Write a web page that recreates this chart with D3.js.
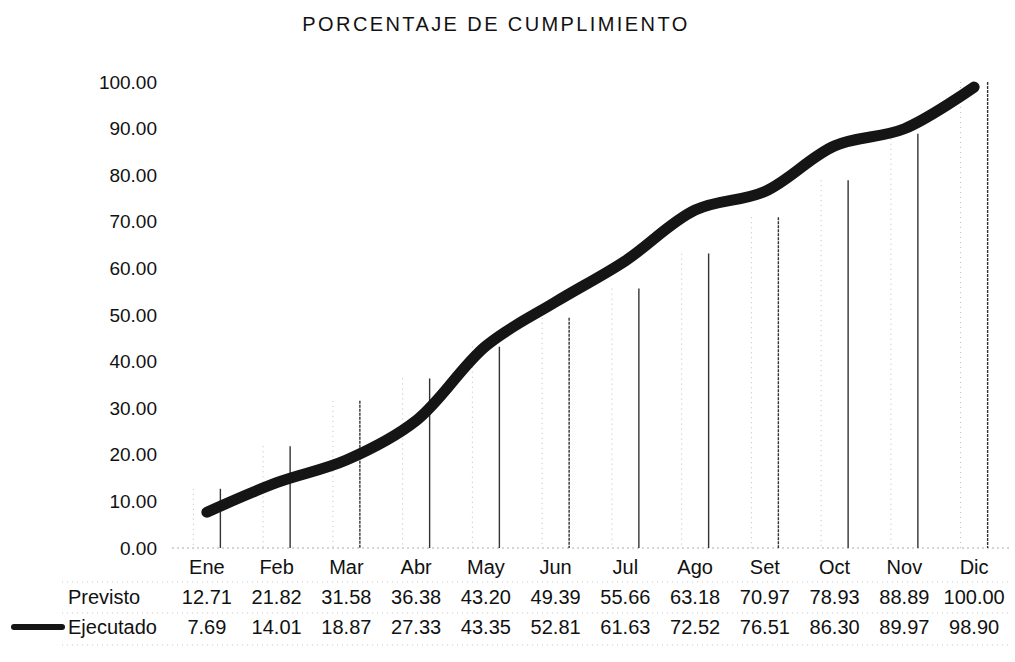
<!DOCTYPE html>
<html>
<head>
<meta charset="utf-8">
<script src="https://cdn.jsdelivr.net/npm/d3@7"></script>
<style>
    body { margin: 0; background: #fff; }
    text { font-family: "Liberation Sans", Arial, sans-serif; fill: #111; }
</style>
</head>
<body>
<div id="chart"></div>
<script>
// Data
const months = ['Ene', 'Feb', 'Mar', 'Abr', 'May', 'Jun', 'Jul', 'Ago', 'Set', 'Oct', 'Nov', 'Dic'];
const previsto = [12.71, 21.82, 31.58, 36.38, 43.20, 49.39, 55.66, 63.18, 70.97, 78.93, 88.89, 100.00];
const ejecutado = [7.69, 14.01, 18.87, 27.33, 43.35, 52.81, 61.63, 72.52, 76.51, 86.30, 89.97, 98.90];
const yTicks = [0, 10, 20, 30, 40, 50, 60, 70, 80, 90, 100];
const rowNames = ['Previsto', 'Ejecutado'];

let width = 1015,
    height = 662;

let svg = d3.select('#chart')
    .append('svg')
    .attr('width', width)
    .attr('height', height);

// Title
svg.append('text')
    .attr('x', 496)
    .attr('y', 31)
    .attr('text-anchor', 'middle')
    .style('font-size', '20px')
    .style('letter-spacing', '2.4px')
    .text('PORCENTAJE DE CUMPLIMIENTO');

let xScale = d3.scaleBand()
    .domain(months)
    .range([172, 1009]);

let yScale = d3.scaleLinear()
    .domain([0, 100])
    .range([548, 82]);

// Y axis: labels only, no line
let yAxis = svg.append('g')
    .attr('transform', 'translate(157,0)')
    .call(d3.axisLeft(yScale).tickValues(yTicks).tickFormat(d3.format('.2f')).tickSize(0).tickPadding(0));
yAxis.select('.domain').remove();
yAxis.selectAll('text')
    .style('font-size', '19px')
    .style('font-family', '"Liberation Sans", Arial, sans-serif')
    .attr('fill', '#111');

// faint dotted baseline
svg.append('line')
    .attr('x1', xScale.range()[0]).attr('x2', xScale.range()[1])
    .attr('y1', yScale(0)).attr('y2', yScale(0))
    .attr('stroke', '#aaa')
    .attr('stroke-dasharray', '2,3');

// Previsto bars (white bars, scan keeps mostly the right edges)
let barW = 27;
let bars = svg.append('g')
    .selectAll('g')
    .data(previsto)
    .enter().append('g')
    .attr('transform', (d, i) => 'translate(' + (xScale(months[i]) + xScale.bandwidth() / 2) + ',0)');

bars.append('line')
    .attr('x1', -barW / 2).attr('x2', -barW / 2)
    .attr('y1', d => yScale(d)).attr('y2', yScale(0))
    .attr('stroke', '#bbb')
    .attr('stroke-dasharray', '1,4');

bars.append('line')
    .attr('x1', barW / 2).attr('x2', barW / 2)
    .attr('y1', d => yScale(d)).attr('y2', yScale(0))
    .attr('stroke', '#333')
    .attr('stroke-width', 1.4)
    .attr('stroke-dasharray', (d, i) => (i % 3 === 2) ? '3,1' : null);

// Ejecutado thick smoothed line
let line = d3.line()
    .x((d, i) => xScale(months[i]) + xScale.bandwidth() / 2)
    .y(d => yScale(d))
    .curve(d3.curveCatmullRom.alpha(0.5));

svg.append('path')
    .datum(ejecutado)
    .attr('d', line)
    .attr('fill', 'none')
    .attr('stroke', '#151515')
    .attr('stroke-width', 11)
    .attr('stroke-linecap', 'round')
    .attr('stroke-linejoin', 'round');

// Month labels
svg.append('g')
    .selectAll('text')
    .data(months)
    .enter().append('text')
    .attr('x', d => xScale(d) + xScale.bandwidth() / 2)
    .attr('y', 574)
    .attr('text-anchor', 'middle')
    .style('font-size', '20px')
    .text(d => d);

// Data table
let rowY = [604, 634];
let tableRows = [previsto, ejecutado];

// faint dotted table rules
[582, 613, 645].forEach(y => {
    svg.append('line')
        .attr('x1', 62).attr('x2', 1010)
        .attr('y1', y).attr('y2', y)
        .attr('stroke', '#c8c8c8')
        .attr('stroke-dasharray', '1,4');
});

tableRows.forEach((row, r) => {
    svg.append('text')
        .attr('x', 68)
        .attr('y', rowY[r])
        .style('font-size', '20px')
        .text(rowNames[r]);

    svg.append('g')
        .selectAll('text')
        .data(row)
        .enter().append('text')
        .attr('x', (d, i) => xScale(months[i]) + xScale.bandwidth() / 2)
        .attr('y', rowY[r])
        .attr('text-anchor', 'middle')
        .style('font-size', '20px')
        .text(d => d3.format('.2f')(d));
});

// Legend key for Ejecutado
svg.append('line')
    .attr('x1', 14).attr('x2', 62)
    .attr('y1', rowY[1] - 7).attr('y2', rowY[1] - 7)
    .attr('stroke', '#151515')
    .attr('stroke-width', 6)
    .attr('stroke-linecap', 'round');
</script>
</body>
</html>
